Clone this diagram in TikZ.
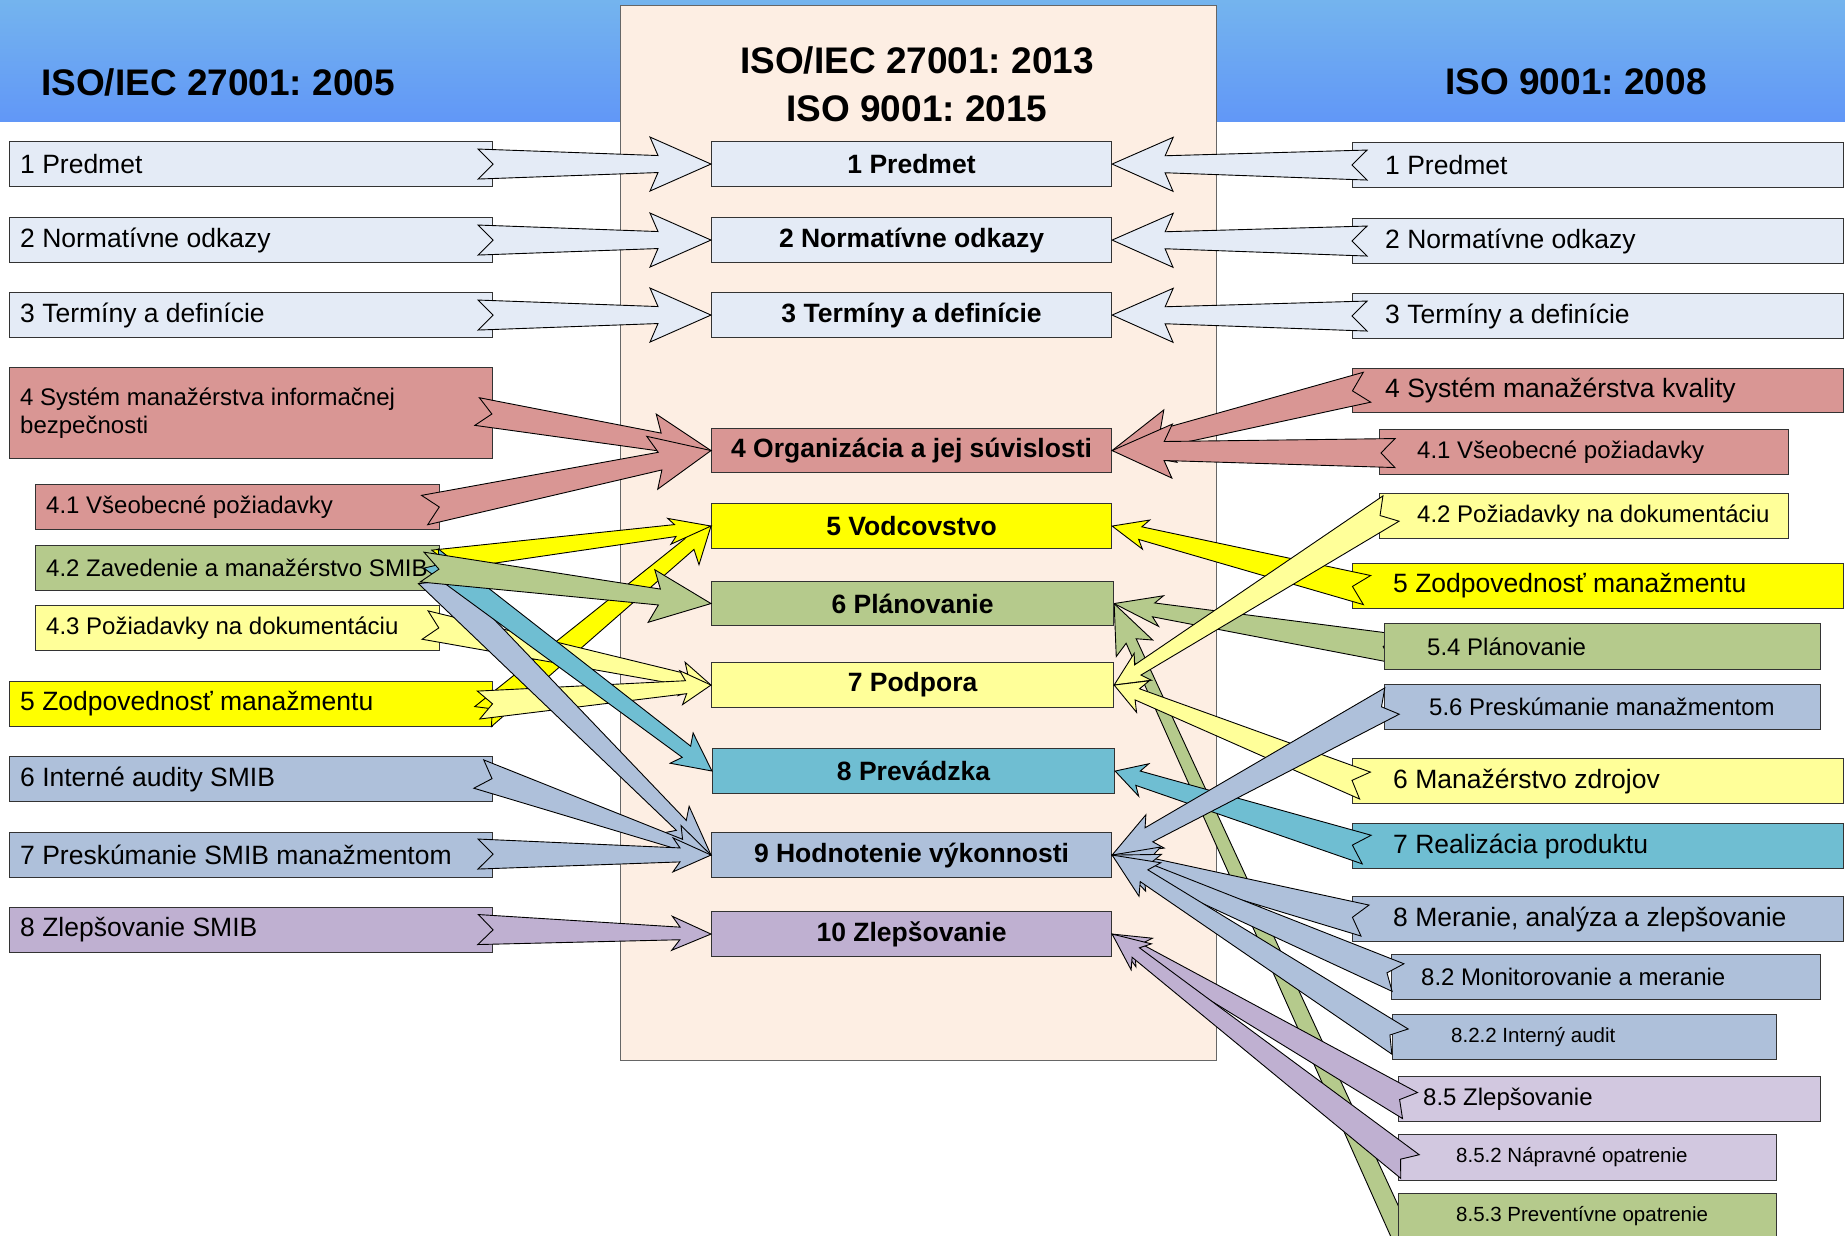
\documentclass[tikz,border=0pt]{standalone}
\usepackage{fontspec}
\setmainfont{Liberation Sans}
\frenchspacing
\usetikzlibrary{calc}
\pgfdeclarelayer{back}
\pgfdeclarelayer{under}
\pgfsetlayers{back,under,main}
\definecolor{cLB}{HTML}{E4EBF6}
\definecolor{cRose}{HTML}{D99694}
\definecolor{cYel}{HTML}{FFFF00}
\definecolor{cLY}{HTML}{FFFF99}
\definecolor{cGrn}{HTML}{B5CA8C}
\definecolor{cBG}{HTML}{AEC0DA}
\definecolor{cTeal}{HTML}{6FBED2}
\definecolor{cLil}{HTML}{BFB0D1}
\definecolor{cLilL}{HTML}{D2C8E0}
\definecolor{cPeach}{HTML}{FDEEE3}
\definecolor{cBandT}{HTML}{74B4EE}
\definecolor{cBandB}{HTML}{6197F7}
\newcommand\fsMain{\fontsize{26.5}{30}\selectfont}
\newcommand\fsSub{\fontsize{24}{28}\selectfont}
\newcommand\fsSmall{\fontsize{20.5}{24}\selectfont}
\newcommand\fsTitle{\fontsize{37}{48}\selectfont}
\tikzset{
  box/.style={draw=black!80, line width=1.1pt, rectangle, inner sep=0pt, anchor=north west},
  cbox/.style={box, font=\fsMain\bfseries},
  lbl/.style={anchor=west, inner sep=0pt, font=\fsMain},
  arr/.style={draw=black, line width=0.9pt},
}
% block arrow: from, to, tail half-width, shaft half-width at head, head half-width,
% head length, barb back offset, notch depth, fill colour
\newcommand\barrow[9]{%
  \path #1; \pgfgetlastxy{\bAx}{\bAy}%
  \path #2; \pgfgetlastxy{\bBx}{\bBy}%
  \pgfmathsetmacro\bAng{atan2(\bBy-\bAy,\bBx-\bAx)}%
  \pgfmathsetmacro\bLen{veclen(\bBx-\bAx,\bBy-\bAy)}%
  \pgfmathsetmacro\bJ{\bLen-#6}%
  \pgfmathsetmacro\bK{\bLen-#6-#7}%
  \begin{scope}[shift={(\bAx,\bAy)},rotate=\bAng]
    \draw[arr,fill=#9] (0pt,#3pt) -- (\bJ pt,#4pt) -- (\bK pt,#5pt) -- (\bLen pt,0pt)
      -- (\bK pt,-#5pt) -- (\bJ pt,-#4pt) -- (0pt,-#3pt) -- (#8pt,0pt) -- cycle;
  \end{scope}}
\begin{document}
\begin{tikzpicture}[x=1pt,y=-1pt]
\useasboundingbox (0,0) rectangle (1845,1236);
\clip (0,0) rectangle (1845,1236);
\begin{pgfonlayer}{back}
\fill[white] (0,0) rectangle (1845,1236);
\shade[top color=cBandT, bottom color=cBandB] (0,0) rectangle (1845,122);
\draw[fill=cPeach, draw=black!60, line width=1pt] (620,6) rectangle (1216,1060);
\end{pgfonlayer}
\node[font=\fsTitle\bfseries] (tl) at (218,82) {ISO/IEC 27001: 2005};
\node[font=\fsTitle\bfseries, align=center] (tc) at (917,84) {ISO/IEC 27001: 2013\\ISO 9001: 2015};
\node[font=\fsTitle\bfseries] (tr) at (1576,82) {ISO 9001: 2008};

% centre boxes
\node[cbox, fill=cLB, minimum width=400pt, minimum height=45pt] (c1) at (711,141) {1 Predmet};
\node[cbox, fill=cLB, minimum width=400pt, minimum height=45pt] (c2) at (711,217) {2 Normatívne odkazy};
\node[cbox, fill=cLB, minimum width=400pt, minimum height=45pt] (c3) at (711,292) {3 Termíny a definície};
\node[cbox, fill=cRose, minimum width=400pt, minimum height=44pt] (c4) at (711,428) {4 Organizácia a jej súvislosti};
\node[cbox, fill=cYel, minimum width=400pt, minimum height=45pt] (c5) at (711,503) {5 Vodcovstvo};
\node[cbox, fill=cGrn, minimum width=402pt, minimum height=44pt] (c6) at (711,581) {6 Plánovanie};
\node[cbox, fill=cLY, minimum width=402pt, minimum height=45pt] (c7) at (711,662) {7 Podpora};
\node[cbox, fill=cTeal, minimum width=402pt, minimum height=45pt] (c8) at (712,748) {8 Prevádzka};
\node[cbox, fill=cBG, minimum width=400pt, minimum height=45pt] (c9) at (711,832) {9 Hodnotenie výkonnosti};
\node[cbox, fill=cLil, minimum width=400pt, minimum height=45pt] (c10) at (711,911) {10 Zlepšovanie};

% left boxes
\node[box, fill=cLB, minimum width=483pt, minimum height=45pt, label={[lbl,xshift=11pt]west:{1 Predmet}}] (l1) at (9,141) {};
\node[box, fill=cLB, minimum width=483pt, minimum height=45pt, label={[lbl,xshift=11pt]west:{2 Normatívne odkazy}}] (l2) at (9,217) {};
\node[box, fill=cLB, minimum width=483pt, minimum height=45pt, label={[lbl,xshift=11pt]west:{3 Termíny a definície}}] (l3) at (9,292) {};
\node[box, fill=cRose, minimum width=483pt, minimum height=91pt, label={[lbl,font=\fsSub,align=left,xshift=11pt]west:{4 Systém manažérstva informačnej\\bezpečnosti}}] (l4) at (9,367) {};
\node[box, fill=cRose, minimum width=404pt, minimum height=45pt, label={[lbl,font=\fsSub,xshift=11pt]west:{4.1 Všeobecné požiadavky}}] (l41) at (35,484) {};
\node[box, fill=cGrn, minimum width=404pt, minimum height=45pt, label={[lbl,font=\fsSub,xshift=11pt]west:{4.2 Zavedenie a manažérstvo SMIB}}] (l42) at (35,545) {};
\node[box, fill=cLY, minimum width=404pt, minimum height=45pt, label={[lbl,font=\fsSub,xshift=11pt]west:{4.3 Požiadavky na dokumentáciu}}] (l43) at (35,605) {};
\node[box, fill=cYel, minimum width=483pt, minimum height=45pt, label={[lbl,xshift=11pt]west:{5 Zodpovednosť manažmentu}}] (l5) at (9,681) {};
\node[box, fill=cBG, minimum width=483pt, minimum height=45pt, label={[lbl,xshift=11pt]west:{6 Interné audity SMIB}}] (l6) at (9,756) {};
\node[box, fill=cBG, minimum width=483pt, minimum height=45pt, label={[lbl,xshift=11pt]west:{7 Preskúmanie SMIB manažmentom}}] (l7) at (9,832) {};
\node[box, fill=cLil, minimum width=483pt, minimum height=45pt, label={[lbl,xshift=11pt]west:{8 Zlepšovanie SMIB}}] (l8) at (9,907) {};

% right boxes
\node[box, fill=cLB, minimum width=491pt, minimum height=45pt, label={[lbl,xshift=33pt]west:{1 Predmet}}] (r1) at (1352,142) {};
\node[box, fill=cLB, minimum width=491pt, minimum height=45pt, label={[lbl,xshift=33pt]west:{2 Normatívne odkazy}}] (r2) at (1352,218) {};
\node[box, fill=cLB, minimum width=491pt, minimum height=45pt, label={[lbl,xshift=33pt]west:{3 Termíny a definície}}] (r3) at (1352,293) {};
\node[box, fill=cRose, minimum width=491pt, minimum height=44pt, label={[lbl,xshift=33pt]west:{4 Systém manažérstva kvality}}] (r4) at (1352,368) {};
\node[box, fill=cRose, minimum width=409pt, minimum height=45pt, label={[lbl,font=\fsSub,xshift=38pt]west:{4.1 Všeobecné požiadavky}}] (r41) at (1379,429) {};
\node[box, fill=cLY, minimum width=409pt, minimum height=45pt, label={[lbl,font=\fsSub,xshift=38pt]west:{4.2 Požiadavky na dokumentáciu}}] (r42) at (1379,493) {};
\node[box, fill=cYel, minimum width=491pt, minimum height=45pt, label={[lbl,xshift=41pt]west:{5 Zodpovednosť manažmentu}}] (r5) at (1352,563) {};
\node[box, fill=cGrn, minimum width=436pt, minimum height=46pt, label={[lbl,font=\fsSub,xshift=43pt]west:{5.4 Plánovanie}}] (r54) at (1384,623) {};
\node[box, fill=cBG, minimum width=436pt, minimum height=45pt, label={[lbl,font=\fsSub,xshift=45pt]west:{5.6 Preskúmanie manažmentom}}] (r56) at (1384,684) {};
\node[box, fill=cLY, minimum width=491pt, minimum height=45pt, label={[lbl,xshift=41pt]west:{6 Manažérstvo zdrojov}}] (r6) at (1352,758) {};
\node[box, fill=cTeal, minimum width=491pt, minimum height=45pt, label={[lbl,xshift=41pt]west:{7 Realizácia produktu}}] (r7) at (1352,823) {};
\node[box, fill=cBG, minimum width=491pt, minimum height=45pt, label={[lbl,xshift=41pt]west:{8 Meranie, analýza a zlepšovanie}}] (r8) at (1352,896) {};
\node[box, fill=cBG, minimum width=429pt, minimum height=45pt, label={[lbl,font=\fsSub,xshift=30pt]west:{8.2 Monitorovanie a meranie}}] (r82) at (1391,954) {};
\node[box, fill=cBG, minimum width=384pt, minimum height=45pt, label={[lbl,font=\fsSmall,xshift=59pt]west:{8.2.2 Interný audit}}] (r822) at (1392,1014) {};
\node[box, fill=cLilL, minimum width=422pt, minimum height=45pt, label={[lbl,font=\fsSub,xshift=25pt]west:{8.5 Zlepšovanie}}] (r85) at (1398,1076) {};
\node[box, fill=cLilL, minimum width=378pt, minimum height=46pt, label={[lbl,font=\fsSmall,xshift=58pt]west:{8.5.2 Nápravné opatrenie}}] (r852) at (1398,1134) {};
\node[box, fill=cGrn, minimum width=378pt, minimum height=45pt, label={[lbl,font=\fsSmall,xshift=58pt]west:{8.5.3 Preventívne opatrenie}}] (r853) at (1398,1193) {};

% green arrows that lie under their source boxes
\begin{pgfonlayer}{under}
\begin{scope}
\clip (0,0) rectangle (1845,1236);
\barrow{($(r853.west)+(10,34.5)$)}{(c6.east)}{10}{5.5}{20}{41}{8}{10}{cGrn}
\barrow{($(r54.west)+(11,2)$)}{(c6.east)}{14.5}{7}{15.5}{40}{7.5}{12}{cGrn}
\end{scope}
\end{pgfonlayer}

% left arrows
\barrow{($(l1.east)+(-15,0)$)}{(c1.west)}{15}{8.5}{27}{53}{8}{15}{cLB}
\barrow{($(l2.east)+(-15,0)$)}{(c2.west)}{15}{8.5}{27}{53}{8}{15}{cLB}
\barrow{($(l3.east)+(-15,0)$)}{(c3.west)}{15}{8.5}{27}{53}{8}{15}{cLB}
\barrow{($(l4.east)+(-16,-1.5)$)}{(c4.west)}{14}{9}{27}{52}{8}{15}{cRose}
\barrow{($(l41.east)+(-15.5,3)$)}{(c4.west)}{15}{9}{27}{52}{8}{15}{cRose}
\barrow{($(l5.east)+(-10,12.5)$)}{(c5.west)}{13}{7}{22}{28}{6}{12}{cYel}
\barrow{($(l43.east)+(-15,-3)$)}{(c7.west)}{14.5}{6}{17}{25}{5}{14}{cLY}
\barrow{($(l5.east)+(-14.5,1)$)}{(c7.west)}{14}{6.5}{17}{25}{5}{14}{cLY}
\barrow{($(l42.east)+(-7,-7)$)}{(c5.west)}{11}{6}{13}{36}{6}{11}{cYel}
\barrow{($(l42.east)+(-11,5)$)}{(c9.west)}{15}{7}{19}{42}{8}{12}{cBG}
\barrow{($(l42.east)+(-9,-9.5)$)}{(c8.west)}{12}{7}{19}{32}{6}{10}{cTeal}
\barrow{($(l42.east)+(-18,-1)$)}{(c6.west)}{15}{8}{26.5}{52}{8}{17}{cGrn}
\barrow{($(l6.east)+(-14.3,-5)$)}{(c9.west)}{15}{5.5}{18}{32}{6}{14}{cBG}
\barrow{($(l7.east)+(-15,-1)$)}{(c9.west)}{15}{7}{17}{31}{7}{15}{cBG}
\barrow{($(l8.east)+(-15,-0.5)$)}{(c10.west)}{15}{6.3}{17}{31}{8}{15}{cLil}

% right arrows
\barrow{($(r1.west)+(15,0)$)}{(c1.east)}{15}{8.5}{27}{53}{8}{15}{cLB}
\barrow{($(r2.west)+(15,0)$)}{(c2.east)}{15}{8.5}{27}{53}{8}{15}{cLB}
\barrow{($(r3.west)+(15,0)$)}{(c3.east)}{15}{8.5}{27}{53}{8}{15}{cLB}
\barrow{($(r4.west)+(15,-3.3)$)}{(c4.east)}{15.4}{9}{27}{52}{8}{15}{cRose}
\barrow{($(r41.west)+(16,1)$)}{(c4.east)}{14.5}{9.5}{27}{52}{8}{14}{cRose}
\barrow{($(r5.west)+(15,4)$)}{(c5.east)}{15}{6.5}{15}{29}{6}{15}{cYel}
\barrow{($(r42.west)+(12,-7.5)$)}{(c7.east)}{15}{6}{16}{28}{6}{13}{cLY}
\barrow{($(r6.west)+(13,4.5)$)}{(c7.east)}{14.5}{6}{17}{25}{6}{14}{cLY}
\barrow{($(r7.west)+(14.7,3.5)$)}{(c8.east)}{15}{7.5}{17}{24}{6}{15}{cTeal}
\barrow{($(r56.west)+(8,-6)$)}{(c9.east)}{15}{8}{19}{42}{7}{12}{cBG}
\barrow{($(r8.west)+(13,1.5)$)}{(c9.east)}{16}{7}{20}{38}{7}{13}{cBG}
\barrow{($(r82.west)+(7,0.5)$)}{(c9.east)}{15}{7}{20}{38}{7}{12}{cBG}
\barrow{($(r822.west)+(8,4.5)$)}{(c9.east)}{15}{7}{20}{38}{7}{12}{cBG}
\barrow{($(r85.west)+(12,6.5)$)}{(c10.east)}{15}{6}{16.5}{30}{7}{12}{cLil}
\barrow{($(r852.west)+(12,9)$)}{(c10.east)}{15}{6}{16.5}{30}{7}{12}{cLil}
\end{tikzpicture}
\end{document}
